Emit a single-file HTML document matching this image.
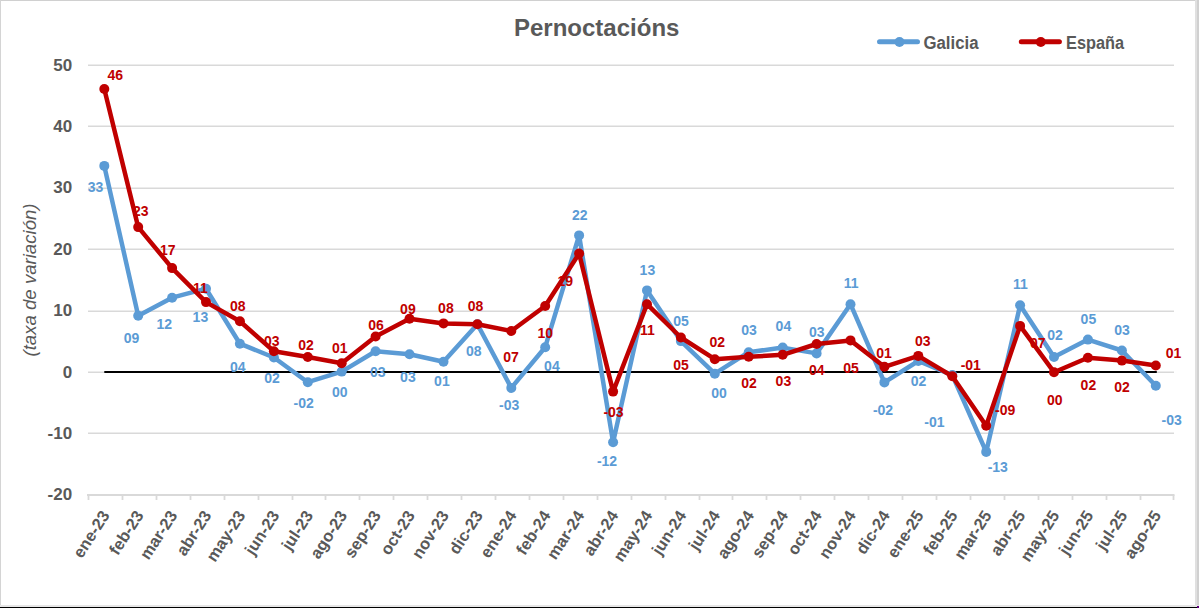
<!DOCTYPE html>
<html><head><meta charset="utf-8"><style>
html,body{margin:0;padding:0;background:#fff;width:1199px;height:608px;overflow:hidden;position:relative}
</style></head><body>
<svg width="1199" height="608" viewBox="0 0 1199 608" style="position:absolute;left:0;top:0"><line x1="88" y1="65.3" x2="1174" y2="65.3" stroke="#d9d9d9" stroke-width="1.5"/><line x1="88" y1="126.3" x2="1174" y2="126.3" stroke="#d9d9d9" stroke-width="1.5"/><line x1="88" y1="188.3" x2="1174" y2="188.3" stroke="#d9d9d9" stroke-width="1.5"/><line x1="88" y1="249.3" x2="1174" y2="249.3" stroke="#d9d9d9" stroke-width="1.5"/><line x1="88" y1="311.3" x2="1174" y2="311.3" stroke="#d9d9d9" stroke-width="1.5"/><line x1="88" y1="372.3" x2="1174" y2="372.3" stroke="#d9d9d9" stroke-width="1.5"/><line x1="88" y1="433.3" x2="1174" y2="433.3" stroke="#d9d9d9" stroke-width="1.5"/><line x1="87" y1="495" x2="1174.5" y2="495" stroke="#d9d9d9" stroke-width="2"/><line x1="88.5" y1="495" x2="88.5" y2="500" stroke="#d9d9d9" stroke-width="1.8"/><line x1="122.5" y1="495" x2="122.5" y2="500" stroke="#d9d9d9" stroke-width="1.8"/><line x1="156.5" y1="495" x2="156.5" y2="500" stroke="#d9d9d9" stroke-width="1.8"/><line x1="190.5" y1="495" x2="190.5" y2="500" stroke="#d9d9d9" stroke-width="1.8"/><line x1="224.5" y1="495" x2="224.5" y2="500" stroke="#d9d9d9" stroke-width="1.8"/><line x1="258.5" y1="495" x2="258.5" y2="500" stroke="#d9d9d9" stroke-width="1.8"/><line x1="292.5" y1="495" x2="292.5" y2="500" stroke="#d9d9d9" stroke-width="1.8"/><line x1="325.5" y1="495" x2="325.5" y2="500" stroke="#d9d9d9" stroke-width="1.8"/><line x1="359.5" y1="495" x2="359.5" y2="500" stroke="#d9d9d9" stroke-width="1.8"/><line x1="393.5" y1="495" x2="393.5" y2="500" stroke="#d9d9d9" stroke-width="1.8"/><line x1="427.5" y1="495" x2="427.5" y2="500" stroke="#d9d9d9" stroke-width="1.8"/><line x1="461.5" y1="495" x2="461.5" y2="500" stroke="#d9d9d9" stroke-width="1.8"/><line x1="495.5" y1="495" x2="495.5" y2="500" stroke="#d9d9d9" stroke-width="1.8"/><line x1="529.5" y1="495" x2="529.5" y2="500" stroke="#d9d9d9" stroke-width="1.8"/><line x1="563.5" y1="495" x2="563.5" y2="500" stroke="#d9d9d9" stroke-width="1.8"/><line x1="597.5" y1="495" x2="597.5" y2="500" stroke="#d9d9d9" stroke-width="1.8"/><line x1="631.5" y1="495" x2="631.5" y2="500" stroke="#d9d9d9" stroke-width="1.8"/><line x1="665.5" y1="495" x2="665.5" y2="500" stroke="#d9d9d9" stroke-width="1.8"/><line x1="699.5" y1="495" x2="699.5" y2="500" stroke="#d9d9d9" stroke-width="1.8"/><line x1="732.5" y1="495" x2="732.5" y2="500" stroke="#d9d9d9" stroke-width="1.8"/><line x1="766.5" y1="495" x2="766.5" y2="500" stroke="#d9d9d9" stroke-width="1.8"/><line x1="800.5" y1="495" x2="800.5" y2="500" stroke="#d9d9d9" stroke-width="1.8"/><line x1="834.5" y1="495" x2="834.5" y2="500" stroke="#d9d9d9" stroke-width="1.8"/><line x1="868.5" y1="495" x2="868.5" y2="500" stroke="#d9d9d9" stroke-width="1.8"/><line x1="902.5" y1="495" x2="902.5" y2="500" stroke="#d9d9d9" stroke-width="1.8"/><line x1="936.5" y1="495" x2="936.5" y2="500" stroke="#d9d9d9" stroke-width="1.8"/><line x1="970.5" y1="495" x2="970.5" y2="500" stroke="#d9d9d9" stroke-width="1.8"/><line x1="1004.5" y1="495" x2="1004.5" y2="500" stroke="#d9d9d9" stroke-width="1.8"/><line x1="1038.5" y1="495" x2="1038.5" y2="500" stroke="#d9d9d9" stroke-width="1.8"/><line x1="1072.5" y1="495" x2="1072.5" y2="500" stroke="#d9d9d9" stroke-width="1.8"/><line x1="1106.5" y1="495" x2="1106.5" y2="500" stroke="#d9d9d9" stroke-width="1.8"/><line x1="1140.5" y1="495" x2="1140.5" y2="500" stroke="#d9d9d9" stroke-width="1.8"/><line x1="1173.5" y1="495" x2="1173.5" y2="500" stroke="#d9d9d9" stroke-width="1.8"/><text x="72.2" y="70.5" text-anchor="end" font-family="Liberation Sans" font-weight="bold" font-size="17" fill="#595959">50</text><text x="72.2" y="131.9" text-anchor="end" font-family="Liberation Sans" font-weight="bold" font-size="17" fill="#595959">40</text><text x="72.2" y="193.3" text-anchor="end" font-family="Liberation Sans" font-weight="bold" font-size="17" fill="#595959">30</text><text x="72.2" y="254.7" text-anchor="end" font-family="Liberation Sans" font-weight="bold" font-size="17" fill="#595959">20</text><text x="72.2" y="316.1" text-anchor="end" font-family="Liberation Sans" font-weight="bold" font-size="17" fill="#595959">10</text><text x="72.2" y="377.5" text-anchor="end" font-family="Liberation Sans" font-weight="bold" font-size="17" fill="#595959">0</text><text x="72.2" y="438.9" text-anchor="end" font-family="Liberation Sans" font-weight="bold" font-size="17" fill="#595959">-10</text><text x="72.2" y="500.3" text-anchor="end" font-family="Liberation Sans" font-weight="bold" font-size="17" fill="#595959">-20</text><line x1="104.3" y1="372" x2="1156.8" y2="372" stroke="#000" stroke-width="2"/><polyline points="104.3,165.9 138.2,315.8 172.1,297.7 206.0,288.7 239.9,343.7 273.9,357.5 307.8,382.2 341.7,371.6 375.6,351.3 409.5,354.2 443.5,361.8 477.4,324.2 511.3,387.9 545.2,347.2 579.1,235.4 613.1,442.3 647.0,290.4 680.9,341.1 714.8,373.7 748.7,352.2 782.7,347.6 816.6,353.4 850.5,304.2 884.4,382.4 918.3,361.0 952.3,375.1 986.2,451.9 1020.1,305.2 1054.0,357.0 1087.9,339.6 1121.9,350.5 1155.8,385.8" fill="none" stroke="#5b9bd5" stroke-width="4.5" stroke-linejoin="round" stroke-linecap="round"/><circle cx="104.3" cy="165.9" r="5" fill="#5b9bd5"/><circle cx="138.2" cy="315.8" r="5" fill="#5b9bd5"/><circle cx="172.1" cy="297.7" r="5" fill="#5b9bd5"/><circle cx="206.0" cy="288.7" r="5" fill="#5b9bd5"/><circle cx="239.9" cy="343.7" r="5" fill="#5b9bd5"/><circle cx="273.9" cy="357.5" r="5" fill="#5b9bd5"/><circle cx="307.8" cy="382.2" r="5" fill="#5b9bd5"/><circle cx="341.7" cy="371.6" r="5" fill="#5b9bd5"/><circle cx="375.6" cy="351.3" r="5" fill="#5b9bd5"/><circle cx="409.5" cy="354.2" r="5" fill="#5b9bd5"/><circle cx="443.5" cy="361.8" r="5" fill="#5b9bd5"/><circle cx="477.4" cy="324.2" r="5" fill="#5b9bd5"/><circle cx="511.3" cy="387.9" r="5" fill="#5b9bd5"/><circle cx="545.2" cy="347.2" r="5" fill="#5b9bd5"/><circle cx="579.1" cy="235.4" r="5" fill="#5b9bd5"/><circle cx="613.1" cy="442.3" r="5" fill="#5b9bd5"/><circle cx="647.0" cy="290.4" r="5" fill="#5b9bd5"/><circle cx="680.9" cy="341.1" r="5" fill="#5b9bd5"/><circle cx="714.8" cy="373.7" r="5" fill="#5b9bd5"/><circle cx="748.7" cy="352.2" r="5" fill="#5b9bd5"/><circle cx="782.7" cy="347.6" r="5" fill="#5b9bd5"/><circle cx="816.6" cy="353.4" r="5" fill="#5b9bd5"/><circle cx="850.5" cy="304.2" r="5" fill="#5b9bd5"/><circle cx="884.4" cy="382.4" r="5" fill="#5b9bd5"/><circle cx="918.3" cy="361.0" r="5" fill="#5b9bd5"/><circle cx="952.3" cy="375.1" r="5" fill="#5b9bd5"/><circle cx="986.2" cy="451.9" r="5" fill="#5b9bd5"/><circle cx="1020.1" cy="305.2" r="5" fill="#5b9bd5"/><circle cx="1054.0" cy="357.0" r="5" fill="#5b9bd5"/><circle cx="1087.9" cy="339.6" r="5" fill="#5b9bd5"/><circle cx="1121.9" cy="350.5" r="5" fill="#5b9bd5"/><circle cx="1155.8" cy="385.8" r="5" fill="#5b9bd5"/><polyline points="104.3,89.0 138.2,227.1 172.1,268.1 206.0,302.1 239.9,321.3 273.9,351.3 307.8,357.0 341.7,363.3 375.6,336.5 409.5,318.7 443.5,323.4 477.4,324.2 511.3,331.0 545.2,306.0 579.1,253.5 613.1,391.6 647.0,304.2 680.9,337.5 714.8,359.2 748.7,356.8 782.7,354.8 816.6,344.0 850.5,340.4 884.4,366.8 918.3,355.9 952.3,376.2 986.2,425.7 1020.1,325.9 1054.0,372.2 1087.9,357.7 1121.9,360.6 1155.8,365.5" fill="none" stroke="#c00000" stroke-width="4.5" stroke-linejoin="round" stroke-linecap="round"/><circle cx="104.3" cy="89.0" r="5" fill="#c00000"/><circle cx="138.2" cy="227.1" r="5" fill="#c00000"/><circle cx="172.1" cy="268.1" r="5" fill="#c00000"/><circle cx="206.0" cy="302.1" r="5" fill="#c00000"/><circle cx="239.9" cy="321.3" r="5" fill="#c00000"/><circle cx="273.9" cy="351.3" r="5" fill="#c00000"/><circle cx="307.8" cy="357.0" r="5" fill="#c00000"/><circle cx="341.7" cy="363.3" r="5" fill="#c00000"/><circle cx="375.6" cy="336.5" r="5" fill="#c00000"/><circle cx="409.5" cy="318.7" r="5" fill="#c00000"/><circle cx="443.5" cy="323.4" r="5" fill="#c00000"/><circle cx="477.4" cy="324.2" r="5" fill="#c00000"/><circle cx="511.3" cy="331.0" r="5" fill="#c00000"/><circle cx="545.2" cy="306.0" r="5" fill="#c00000"/><circle cx="579.1" cy="253.5" r="5" fill="#c00000"/><circle cx="613.1" cy="391.6" r="5" fill="#c00000"/><circle cx="647.0" cy="304.2" r="5" fill="#c00000"/><circle cx="680.9" cy="337.5" r="5" fill="#c00000"/><circle cx="714.8" cy="359.2" r="5" fill="#c00000"/><circle cx="748.7" cy="356.8" r="5" fill="#c00000"/><circle cx="782.7" cy="354.8" r="5" fill="#c00000"/><circle cx="816.6" cy="344.0" r="5" fill="#c00000"/><circle cx="850.5" cy="340.4" r="5" fill="#c00000"/><circle cx="884.4" cy="366.8" r="5" fill="#c00000"/><circle cx="918.3" cy="355.9" r="5" fill="#c00000"/><circle cx="952.3" cy="376.2" r="5" fill="#c00000"/><circle cx="986.2" cy="425.7" r="5" fill="#c00000"/><circle cx="1020.1" cy="325.9" r="5" fill="#c00000"/><circle cx="1054.0" cy="372.2" r="5" fill="#c00000"/><circle cx="1087.9" cy="357.7" r="5" fill="#c00000"/><circle cx="1121.9" cy="360.6" r="5" fill="#c00000"/><circle cx="1155.8" cy="365.5" r="5" fill="#c00000"/><text x="95.6" y="192.3" text-anchor="middle" font-family="Liberation Sans" font-weight="bold" font-size="14" fill="#5b9bd5">33</text><text x="131.6" y="342.6" text-anchor="middle" font-family="Liberation Sans" font-weight="bold" font-size="14" fill="#5b9bd5">09</text><text x="164.2" y="329.2" text-anchor="middle" font-family="Liberation Sans" font-weight="bold" font-size="14" fill="#5b9bd5">12</text><text x="200.4" y="321.9" text-anchor="middle" font-family="Liberation Sans" font-weight="bold" font-size="14" fill="#5b9bd5">13</text><text x="237.7" y="371.5" text-anchor="middle" font-family="Liberation Sans" font-weight="bold" font-size="14" fill="#5b9bd5">04</text><text x="272.1" y="383.1" text-anchor="middle" font-family="Liberation Sans" font-weight="bold" font-size="14" fill="#5b9bd5">02</text><text x="303.6" y="407.7" text-anchor="middle" font-family="Liberation Sans" font-weight="bold" font-size="14" fill="#5b9bd5">-02</text><text x="339.8" y="397.2" text-anchor="middle" font-family="Liberation Sans" font-weight="bold" font-size="14" fill="#5b9bd5">00</text><text x="377.8" y="377.3" text-anchor="middle" font-family="Liberation Sans" font-weight="bold" font-size="14" fill="#5b9bd5">03</text><text x="407.9" y="382.0" text-anchor="middle" font-family="Liberation Sans" font-weight="bold" font-size="14" fill="#5b9bd5">03</text><text x="441.9" y="386.4" text-anchor="middle" font-family="Liberation Sans" font-weight="bold" font-size="14" fill="#5b9bd5">01</text><text x="473.8" y="356.3" text-anchor="middle" font-family="Liberation Sans" font-weight="bold" font-size="14" fill="#5b9bd5">08</text><text x="509.2" y="409.9" text-anchor="middle" font-family="Liberation Sans" font-weight="bold" font-size="14" fill="#5b9bd5">-03</text><text x="551.9" y="371.4" text-anchor="middle" font-family="Liberation Sans" font-weight="bold" font-size="14" fill="#5b9bd5">04</text><text x="579.7" y="220.1" text-anchor="middle" font-family="Liberation Sans" font-weight="bold" font-size="14" fill="#5b9bd5">22</text><text x="607.0" y="466.1" text-anchor="middle" font-family="Liberation Sans" font-weight="bold" font-size="14" fill="#5b9bd5">-12</text><text x="647.4" y="274.8" text-anchor="middle" font-family="Liberation Sans" font-weight="bold" font-size="14" fill="#5b9bd5">13</text><text x="681.0" y="325.5" text-anchor="middle" font-family="Liberation Sans" font-weight="bold" font-size="14" fill="#5b9bd5">05</text><text x="719.1" y="397.5" text-anchor="middle" font-family="Liberation Sans" font-weight="bold" font-size="14" fill="#5b9bd5">00</text><text x="749.0" y="334.9" text-anchor="middle" font-family="Liberation Sans" font-weight="bold" font-size="14" fill="#5b9bd5">03</text><text x="783.4" y="331.2" text-anchor="middle" font-family="Liberation Sans" font-weight="bold" font-size="14" fill="#5b9bd5">04</text><text x="816.7" y="337.4" text-anchor="middle" font-family="Liberation Sans" font-weight="bold" font-size="14" fill="#5b9bd5">03</text><text x="851.1" y="287.8" text-anchor="middle" font-family="Liberation Sans" font-weight="bold" font-size="14" fill="#5b9bd5">11</text><text x="883.0" y="414.5" text-anchor="middle" font-family="Liberation Sans" font-weight="bold" font-size="14" fill="#5b9bd5">-02</text><text x="918.5" y="386.3" text-anchor="middle" font-family="Liberation Sans" font-weight="bold" font-size="14" fill="#5b9bd5">02</text><text x="934.4" y="427.2" text-anchor="middle" font-family="Liberation Sans" font-weight="bold" font-size="14" fill="#5b9bd5">-01</text><text x="997.8" y="472.2" text-anchor="middle" font-family="Liberation Sans" font-weight="bold" font-size="14" fill="#5b9bd5">-13</text><text x="1020.4" y="289.3" text-anchor="middle" font-family="Liberation Sans" font-weight="bold" font-size="14" fill="#5b9bd5">11</text><text x="1055.1" y="339.9" text-anchor="middle" font-family="Liberation Sans" font-weight="bold" font-size="14" fill="#5b9bd5">02</text><text x="1088.4" y="323.6" text-anchor="middle" font-family="Liberation Sans" font-weight="bold" font-size="14" fill="#5b9bd5">05</text><text x="1122.1" y="334.9" text-anchor="middle" font-family="Liberation Sans" font-weight="bold" font-size="14" fill="#5b9bd5">03</text><text x="1171.7" y="425.0" text-anchor="middle" font-family="Liberation Sans" font-weight="bold" font-size="14" fill="#5b9bd5">-03</text><text x="115.3" y="79.8" text-anchor="middle" font-family="Liberation Sans" font-weight="bold" font-size="14" fill="#c00000">46</text><text x="140.7" y="215.9" text-anchor="middle" font-family="Liberation Sans" font-weight="bold" font-size="14" fill="#c00000">23</text><text x="167.8" y="254.6" text-anchor="middle" font-family="Liberation Sans" font-weight="bold" font-size="14" fill="#c00000">17</text><text x="200.4" y="293.0" text-anchor="middle" font-family="Liberation Sans" font-weight="bold" font-size="14" fill="#c00000">11</text><text x="237.7" y="310.7" text-anchor="middle" font-family="Liberation Sans" font-weight="bold" font-size="14" fill="#c00000">08</text><text x="271.7" y="345.5" text-anchor="middle" font-family="Liberation Sans" font-weight="bold" font-size="14" fill="#c00000">03</text><text x="306.1" y="349.8" text-anchor="middle" font-family="Liberation Sans" font-weight="bold" font-size="14" fill="#c00000">02</text><text x="339.8" y="353.0" text-anchor="middle" font-family="Liberation Sans" font-weight="bold" font-size="14" fill="#c00000">01</text><text x="376.0" y="330.2" text-anchor="middle" font-family="Liberation Sans" font-weight="bold" font-size="14" fill="#c00000">06</text><text x="407.9" y="314.0" text-anchor="middle" font-family="Liberation Sans" font-weight="bold" font-size="14" fill="#c00000">09</text><text x="445.9" y="312.9" text-anchor="middle" font-family="Liberation Sans" font-weight="bold" font-size="14" fill="#c00000">08</text><text x="475.6" y="311.0" text-anchor="middle" font-family="Liberation Sans" font-weight="bold" font-size="14" fill="#c00000">08</text><text x="511.0" y="362.1" text-anchor="middle" font-family="Liberation Sans" font-weight="bold" font-size="14" fill="#c00000">07</text><text x="545.3" y="337.8" text-anchor="middle" font-family="Liberation Sans" font-weight="bold" font-size="14" fill="#c00000">10</text><text x="565.2" y="286.4" text-anchor="middle" font-family="Liberation Sans" font-weight="bold" font-size="14" fill="#c00000">19</text><text x="613.5" y="417.2" text-anchor="middle" font-family="Liberation Sans" font-weight="bold" font-size="14" fill="#c00000">-03</text><text x="647.4" y="335.2" text-anchor="middle" font-family="Liberation Sans" font-weight="bold" font-size="14" fill="#c00000">11</text><text x="681.0" y="370.3" text-anchor="middle" font-family="Liberation Sans" font-weight="bold" font-size="14" fill="#c00000">05</text><text x="717.3" y="347.2" text-anchor="middle" font-family="Liberation Sans" font-weight="bold" font-size="14" fill="#c00000">02</text><text x="749.0" y="388.1" text-anchor="middle" font-family="Liberation Sans" font-weight="bold" font-size="14" fill="#c00000">02</text><text x="783.4" y="385.5" text-anchor="middle" font-family="Liberation Sans" font-weight="bold" font-size="14" fill="#c00000">03</text><text x="816.7" y="374.7" text-anchor="middle" font-family="Liberation Sans" font-weight="bold" font-size="14" fill="#c00000">04</text><text x="851.1" y="372.5" text-anchor="middle" font-family="Liberation Sans" font-weight="bold" font-size="14" fill="#c00000">05</text><text x="884.1" y="358.4" text-anchor="middle" font-family="Liberation Sans" font-weight="bold" font-size="14" fill="#c00000">01</text><text x="922.8" y="346.4" text-anchor="middle" font-family="Liberation Sans" font-weight="bold" font-size="14" fill="#c00000">03</text><text x="970.8" y="370.0" text-anchor="middle" font-family="Liberation Sans" font-weight="bold" font-size="14" fill="#c00000">-01</text><text x="1005.2" y="415.4" text-anchor="middle" font-family="Liberation Sans" font-weight="bold" font-size="14" fill="#c00000">-09</text><text x="1037.7" y="347.5" text-anchor="middle" font-family="Liberation Sans" font-weight="bold" font-size="14" fill="#c00000">07</text><text x="1054.8" y="405.3" text-anchor="middle" font-family="Liberation Sans" font-weight="bold" font-size="14" fill="#c00000">00</text><text x="1088.4" y="389.9" text-anchor="middle" font-family="Liberation Sans" font-weight="bold" font-size="14" fill="#c00000">02</text><text x="1122.1" y="391.7" text-anchor="middle" font-family="Liberation Sans" font-weight="bold" font-size="14" fill="#c00000">02</text><text x="1173.5" y="358.4" text-anchor="middle" font-family="Liberation Sans" font-weight="bold" font-size="14" fill="#c00000">01</text><text x="110.3" y="515.4" text-anchor="end" transform="rotate(-57 110.3 515.4)" font-family="Liberation Sans" font-weight="bold" font-size="16.5" fill="#595959">ene-23</text><text x="144.2" y="515.4" text-anchor="end" transform="rotate(-57 144.2 515.4)" font-family="Liberation Sans" font-weight="bold" font-size="16.5" fill="#595959">feb-23</text><text x="178.1" y="515.4" text-anchor="end" transform="rotate(-57 178.1 515.4)" font-family="Liberation Sans" font-weight="bold" font-size="16.5" fill="#595959">mar-23</text><text x="212.0" y="515.4" text-anchor="end" transform="rotate(-57 212.0 515.4)" font-family="Liberation Sans" font-weight="bold" font-size="16.5" fill="#595959">abr-23</text><text x="245.9" y="515.4" text-anchor="end" transform="rotate(-57 245.9 515.4)" font-family="Liberation Sans" font-weight="bold" font-size="16.5" fill="#595959">may-23</text><text x="279.9" y="515.4" text-anchor="end" transform="rotate(-57 279.9 515.4)" font-family="Liberation Sans" font-weight="bold" font-size="16.5" fill="#595959">jun-23</text><text x="313.8" y="515.4" text-anchor="end" transform="rotate(-57 313.8 515.4)" font-family="Liberation Sans" font-weight="bold" font-size="16.5" fill="#595959">jul-23</text><text x="347.7" y="515.4" text-anchor="end" transform="rotate(-57 347.7 515.4)" font-family="Liberation Sans" font-weight="bold" font-size="16.5" fill="#595959">ago-23</text><text x="381.6" y="515.4" text-anchor="end" transform="rotate(-57 381.6 515.4)" font-family="Liberation Sans" font-weight="bold" font-size="16.5" fill="#595959">sep-23</text><text x="415.5" y="515.4" text-anchor="end" transform="rotate(-57 415.5 515.4)" font-family="Liberation Sans" font-weight="bold" font-size="16.5" fill="#595959">oct-23</text><text x="449.5" y="515.4" text-anchor="end" transform="rotate(-57 449.5 515.4)" font-family="Liberation Sans" font-weight="bold" font-size="16.5" fill="#595959">nov-23</text><text x="483.4" y="515.4" text-anchor="end" transform="rotate(-57 483.4 515.4)" font-family="Liberation Sans" font-weight="bold" font-size="16.5" fill="#595959">dic-23</text><text x="517.3" y="515.4" text-anchor="end" transform="rotate(-57 517.3 515.4)" font-family="Liberation Sans" font-weight="bold" font-size="16.5" fill="#595959">ene-24</text><text x="551.2" y="515.4" text-anchor="end" transform="rotate(-57 551.2 515.4)" font-family="Liberation Sans" font-weight="bold" font-size="16.5" fill="#595959">feb-24</text><text x="585.1" y="515.4" text-anchor="end" transform="rotate(-57 585.1 515.4)" font-family="Liberation Sans" font-weight="bold" font-size="16.5" fill="#595959">mar-24</text><text x="619.1" y="515.4" text-anchor="end" transform="rotate(-57 619.1 515.4)" font-family="Liberation Sans" font-weight="bold" font-size="16.5" fill="#595959">abr-24</text><text x="653.0" y="515.4" text-anchor="end" transform="rotate(-57 653.0 515.4)" font-family="Liberation Sans" font-weight="bold" font-size="16.5" fill="#595959">may-24</text><text x="686.9" y="515.4" text-anchor="end" transform="rotate(-57 686.9 515.4)" font-family="Liberation Sans" font-weight="bold" font-size="16.5" fill="#595959">jun-24</text><text x="720.8" y="515.4" text-anchor="end" transform="rotate(-57 720.8 515.4)" font-family="Liberation Sans" font-weight="bold" font-size="16.5" fill="#595959">jul-24</text><text x="754.7" y="515.4" text-anchor="end" transform="rotate(-57 754.7 515.4)" font-family="Liberation Sans" font-weight="bold" font-size="16.5" fill="#595959">ago-24</text><text x="788.7" y="515.4" text-anchor="end" transform="rotate(-57 788.7 515.4)" font-family="Liberation Sans" font-weight="bold" font-size="16.5" fill="#595959">sep-24</text><text x="822.6" y="515.4" text-anchor="end" transform="rotate(-57 822.6 515.4)" font-family="Liberation Sans" font-weight="bold" font-size="16.5" fill="#595959">oct-24</text><text x="856.5" y="515.4" text-anchor="end" transform="rotate(-57 856.5 515.4)" font-family="Liberation Sans" font-weight="bold" font-size="16.5" fill="#595959">nov-24</text><text x="890.4" y="515.4" text-anchor="end" transform="rotate(-57 890.4 515.4)" font-family="Liberation Sans" font-weight="bold" font-size="16.5" fill="#595959">dic-24</text><text x="924.3" y="515.4" text-anchor="end" transform="rotate(-57 924.3 515.4)" font-family="Liberation Sans" font-weight="bold" font-size="16.5" fill="#595959">ene-25</text><text x="958.3" y="515.4" text-anchor="end" transform="rotate(-57 958.3 515.4)" font-family="Liberation Sans" font-weight="bold" font-size="16.5" fill="#595959">feb-25</text><text x="992.2" y="515.4" text-anchor="end" transform="rotate(-57 992.2 515.4)" font-family="Liberation Sans" font-weight="bold" font-size="16.5" fill="#595959">mar-25</text><text x="1026.1" y="515.4" text-anchor="end" transform="rotate(-57 1026.1 515.4)" font-family="Liberation Sans" font-weight="bold" font-size="16.5" fill="#595959">abr-25</text><text x="1060.0" y="515.4" text-anchor="end" transform="rotate(-57 1060.0 515.4)" font-family="Liberation Sans" font-weight="bold" font-size="16.5" fill="#595959">may-25</text><text x="1093.9" y="515.4" text-anchor="end" transform="rotate(-57 1093.9 515.4)" font-family="Liberation Sans" font-weight="bold" font-size="16.5" fill="#595959">jun-25</text><text x="1127.9" y="515.4" text-anchor="end" transform="rotate(-57 1127.9 515.4)" font-family="Liberation Sans" font-weight="bold" font-size="16.5" fill="#595959">jul-25</text><text x="1161.8" y="515.4" text-anchor="end" transform="rotate(-57 1161.8 515.4)" font-family="Liberation Sans" font-weight="bold" font-size="16.5" fill="#595959">ago-25</text><text x="514" y="36" font-family="Liberation Sans" font-weight="bold" font-size="24" fill="#595959">Pernoctacións</text><line x1="879.5" y1="41.7" x2="917.5" y2="41.7" stroke="#5b9bd5" stroke-width="5" stroke-linecap="round"/><circle cx="899.5" cy="42" r="5" fill="#5b9bd5"/><text x="923.5" y="49" textLength="55" lengthAdjust="spacingAndGlyphs" font-family="Liberation Sans" font-weight="bold" font-size="17.5" fill="#595959">Galicia</text><line x1="1021.3" y1="41.7" x2="1059.4" y2="41.7" stroke="#c00000" stroke-width="5" stroke-linecap="round"/><circle cx="1040.8" cy="42" r="5" fill="#c00000"/><text x="1066" y="49" textLength="58" lengthAdjust="spacingAndGlyphs" font-family="Liberation Sans" font-weight="bold" font-size="17.5" fill="#595959">España</text><text x="35.8" y="280" text-anchor="middle" transform="rotate(-90 35.8 280)" font-family="Liberation Sans" font-style="italic" font-size="19" textLength="153" lengthAdjust="spacingAndGlyphs" fill="#595959">(taxa de variación)</text><rect x="0" y="0" width="1199" height="1" fill="#d0d0d0"/><rect x="0" y="0" width="1" height="608" fill="#d4d4d4"/><rect x="1195" y="0" width="2" height="608" fill="#e0e0e0"/><rect x="1197" y="0" width="2" height="608" fill="#d0d0d0"/><rect x="0" y="605" width="1199" height="2" fill="#e6e6e6"/><rect x="0" y="607" width="1199" height="1" fill="#000"/><rect x="1197" y="606" width="2" height="2" fill="#600080"/></svg>
</body></html>
